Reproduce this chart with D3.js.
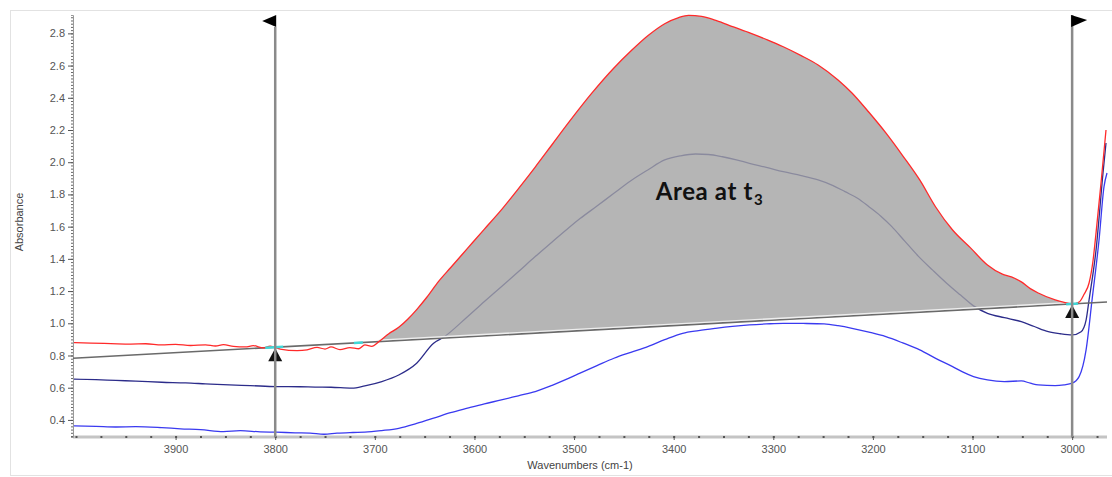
<!DOCTYPE html>
<html>
<head>
<meta charset="utf-8">
<script src="https://cdn.jsdelivr.net/npm/d3@7"></script>
<style>
  html, body { margin: 0; padding: 0; background: #fff; }
  svg { display: block; }
  .tick text { font-family: "Liberation Sans", Arial, sans-serif; font-size: 11px; fill: #555; }
</style>
</head>
<body>
<div id="chart"></div>
<script>
// Spectrum at t3 (red), t2 (navy), t1 (blue)
const redWn = [4002, 3985, 3965, 3945, 3930, 3914, 3900, 3885, 3870, 3860, 3852, 3842, 3830, 3822, 3812, 3805, 3795, 3778, 3768, 3758, 3750, 3744, 3735, 3725, 3716, 3710, 3703, 3696, 3686, 3676, 3667, 3658, 3648, 3636, 3624, 3607, 3590, 3573, 3556, 3539, 3522, 3505, 3482, 3460, 3443, 3426, 3409, 3395, 3385, 3372, 3357, 3340, 3323, 3306, 3290, 3272, 3255, 3235, 3221, 3204, 3187, 3170, 3153, 3137, 3120, 3102, 3085, 3070, 3061, 3051, 3042, 3034, 3017, 3008, 3000, 2993, 2988, 2983, 2979, 2976, 2971, 2966];
const redAbs = [0.880, 0.877, 0.874, 0.871, 0.873, 0.866, 0.869, 0.862, 0.866, 0.859, 0.867, 0.857, 0.853, 0.861, 0.847, 0.858, 0.840, 0.830, 0.835, 0.850, 0.840, 0.853, 0.837, 0.849, 0.842, 0.866, 0.857, 0.886, 0.935, 0.975, 1.025, 1.085, 1.160, 1.260, 1.345, 1.465, 1.585, 1.704, 1.835, 1.970, 2.110, 2.250, 2.430, 2.585, 2.690, 2.785, 2.860, 2.898, 2.912, 2.905, 2.879, 2.840, 2.802, 2.760, 2.717, 2.662, 2.604, 2.511, 2.430, 2.310, 2.182, 2.040, 1.890, 1.722, 1.579, 1.468, 1.362, 1.305, 1.288, 1.257, 1.215, 1.188, 1.145, 1.130, 1.120, 1.132, 1.180, 1.250, 1.390, 1.561, 1.871, 2.200];

const navyWn = [4002, 3980, 3960, 3940, 3914, 3890, 3870, 3846, 3825, 3799, 3775, 3760, 3744, 3723, 3710, 3693, 3676, 3658, 3641, 3631, 3607, 3590, 3573, 3556, 3539, 3522, 3505, 3494, 3477, 3460, 3443, 3426, 3409, 3393, 3378, 3365, 3351, 3337, 3324, 3307, 3290, 3272, 3255, 3240, 3228, 3215, 3204, 3192, 3181, 3168, 3154, 3140, 3126, 3112, 3099, 3085, 3068, 3051, 3038, 3024, 3012, 3000, 2991, 2986, 2983, 2976, 2969, 2966];
const navyAbs = [0.653, 0.650, 0.645, 0.641, 0.634, 0.630, 0.624, 0.617, 0.613, 0.607, 0.606, 0.604, 0.603, 0.597, 0.611, 0.638, 0.679, 0.752, 0.876, 0.913, 1.041, 1.135, 1.227, 1.320, 1.414, 1.505, 1.595, 1.650, 1.728, 1.807, 1.885, 1.952, 2.014, 2.040, 2.051, 2.048, 2.034, 2.015, 1.993, 1.968, 1.941, 1.917, 1.890, 1.855, 1.817, 1.775, 1.724, 1.665, 1.600, 1.510, 1.414, 1.330, 1.249, 1.175, 1.108, 1.062, 1.035, 1.010, 0.980, 0.948, 0.935, 0.928, 0.948, 1.020, 1.145, 1.455, 1.933, 2.119];

const blueWn = [4002, 3980, 3960, 3940, 3914, 3895, 3875, 3852, 3835, 3815, 3799, 3780, 3765, 3751, 3738, 3722, 3710, 3693, 3676, 3658, 3641, 3624, 3607, 3590, 3573, 3556, 3539, 3522, 3505, 3494, 3477, 3460, 3443, 3426, 3409, 3391, 3375, 3358, 3341, 3324, 3307, 3290, 3270, 3249, 3235, 3221, 3204, 3187, 3170, 3153, 3137, 3120, 3110, 3099, 3085, 3068, 3051, 3042, 3034, 3017, 3008, 3000, 2993, 2986, 2980, 2973, 2968, 2965];
const blueAbs = [0.363, 0.360, 0.356, 0.358, 0.352, 0.345, 0.340, 0.327, 0.333, 0.326, 0.324, 0.320, 0.318, 0.311, 0.318, 0.322, 0.324, 0.334, 0.348, 0.378, 0.411, 0.445, 0.473, 0.500, 0.524, 0.550, 0.576, 0.615, 0.659, 0.690, 0.737, 0.783, 0.820, 0.855, 0.898, 0.938, 0.955, 0.969, 0.981, 0.990, 0.996, 1.000, 0.999, 0.996, 0.985, 0.969, 0.945, 0.917, 0.878, 0.835, 0.782, 0.731, 0.698, 0.669, 0.648, 0.638, 0.642, 0.628, 0.617, 0.613, 0.618, 0.628, 0.669, 0.835, 1.145, 1.517, 1.848, 1.933];

// Integration baseline (straight line) and the integration limits (flags)
const baseWn = [4003, 2965];
const baseAbs = [0.783, 1.132];
const flagWn = [3800, 3000];
const areaLimits = [3696, 3000];

// Axis ticks
const xTicks = [3900, 3800, 3700, 3600, 3500, 3400, 3300, 3200, 3100, 3000];
const yTicks = [0.4, 0.6, 0.8, 1.0, 1.2, 1.4, 1.6, 1.8, 2.0, 2.2, 2.4, 2.6, 2.8];

const label = { text: "Area at t", sub: "3", wn: 3418, abs: 1.765 };

const width = 1112, height = 477;
const svg = d3.select("#chart").append("svg")
    .attr("width", width)
    .attr("height", height);

// outer frame
svg.append("rect")
    .attr("x", 10.5).attr("y", 10.5)
    .attr("width", 1110).attr("height", 465)
    .attr("fill", "none").attr("stroke", "#e2e2e2");

const x = d3.scaleLinear().domain([4003, 2965]).range([73, 1107]);
const y = d3.scaleLinear().domain([0.294, 2.914]).range([437, 15]);
const baseline = d3.scaleLinear().domain(baseWn).range(baseAbs);

// x axis: thick light line, dark ticks
svg.append("line")
    .attr("x1", x.range()[0]).attr("x2", x.range()[1])
    .attr("y1", 437).attr("y2", 437)
    .attr("stroke", "#c4c4c4").attr("stroke-width", 3);

const xMinor = d3.range(4000, 2960, -25);
svg.append("g")
    .attr("transform", "translate(0,436)")
    .call(d3.axisBottom(x).tickValues(xMinor).tickSize(2).tickFormat(""))
    .call(g => g.select(".domain").remove())
    .call(g => g.selectAll("line").attr("stroke", "#555").attr("stroke-width", 2));

svg.append("g")
    .attr("transform", "translate(0,436)")
    .call(d3.axisBottom(x).tickValues(xTicks).tickSize(4).tickFormat(d3.format("d")))
    .call(g => g.select(".domain").remove())
    .call(g => g.selectAll("line").attr("stroke", "#555"))
    .call(g => g.selectAll("text").attr("dy", "0.9em"));

// y axis: dotted minor ticks + labelled majors
svg.append("g")
    .attr("transform", "translate(73,0)")
    .call(d3.axisLeft(y).tickValues(d3.range(0.30, 2.92, 0.02)).tickSize(2).tickFormat(""))
    .call(g => g.select(".domain").attr("stroke", "#999"))
    .call(g => g.selectAll("line").attr("stroke", "#666"));

svg.append("g")
    .attr("transform", "translate(73,0)")
    .call(d3.axisLeft(y).tickValues(yTicks).tickSize(5).tickFormat(d3.format(".1f")))
    .call(g => g.select(".domain").remove())
    .call(g => g.selectAll("line").attr("stroke", "#555"))
    .call(g => g.selectAll("text").attr("x", -8));

// axis titles
svg.append("text")
    .attr("x", 580).attr("y", 469)
    .attr("text-anchor", "middle")
    .style("font-family", "Liberation Sans, Arial, sans-serif")
    .style("font-size", "11px").style("fill", "#444")
    .text("Wavenumbers (cm-1)");

svg.append("text")
    .attr("transform", "translate(23,222) rotate(-90)")
    .attr("text-anchor", "middle")
    .style("font-family", "Liberation Sans, Arial, sans-serif")
    .style("font-size", "11px").style("fill", "#444")
    .text("Absorbance");

const plot = svg.append("g");

const toPts = (wn, ab) => wn.map((w, i) => ({ wn: w, abs: ab[i] }));
const line = d3.line().x(d => x(d.wn)).y(d => y(d.abs)).curve(d3.curveMonotoneX);

// t1 and t2 spectra
plot.append("path")
    .attr("d", line(toPts(blueWn, blueAbs)))
    .attr("fill", "none").attr("stroke", "#3a3af0").attr("stroke-width", 1.3);

plot.append("path")
    .attr("d", line(toPts(navyWn, navyAbs)))
    .attr("fill", "none").attr("stroke", "#2c2c8a").attr("stroke-width", 1.3);

// integrated area (grey) between red spectrum and baseline
const redPts = toPts(redWn, redAbs);
const areaPts = redPts.filter(d => d.wn <= areaLimits[0] && d.wn >= areaLimits[1]);
const area = d3.area()
    .x(d => x(d.wn))
    .y0(d => y(baseline(d.wn)))
    .y1(d => y(Math.max(d.abs, baseline(d.wn))))
    .curve(d3.curveMonotoneX);

plot.append("path")
    .attr("d", area(areaPts))
    .attr("fill", "#a2a2a2")
    .attr("fill-opacity", 0.8);

// baseline
const baseLine = d3.line().x(d => x(d)).y(d => y(baseline(d)));
plot.append("path")
    .attr("d", baseLine(baseWn))
    .attr("fill", "none").attr("stroke", "#6a6a6a").attr("stroke-width", 1.6);
plot.append("path")
    .attr("d", baseLine(areaLimits))
    .attr("transform", "translate(0,-1.5)")
    .attr("fill", "none").attr("stroke", "#eeeeee").attr("stroke-width", 1.4);

// t3 spectrum
plot.append("path")
    .attr("d", line(redPts))
    .attr("fill", "none").attr("stroke", "#ff2a2a").attr("stroke-width", 1.3);

// cyan markers where the baseline is anchored
[[3810, 3792], [3721, 3712], [3006, 2994]].forEach(seg => {
    plot.append("path")
        .attr("d", baseLine(seg))
        .attr("fill", "none").attr("stroke", "#3fd8d8").attr("stroke-width", 2.5);
});

// arrow markers under the baseline at each limit
plot.selectAll(".arrow")
    .data(flagWn)
    .enter()
    .append("path")
    .attr("class", "arrow")
    .attr("d", d => {
        const px = x(d), py = y(baseline(d)) + 1;
        return `M${px},${py} L${px + 7},${py + 13} L${px - 7},${py + 13} Z`;
    })
    .attr("fill", "#111");

// limit poles with flags
plot.selectAll(".pole")
    .data(flagWn)
    .enter()
    .append("line")
    .attr("class", "pole")
    .attr("x1", d => x(d)).attr("x2", d => x(d))
    .attr("y1", (d, i) => i === 0 ? 27 : 15)
    .attr("y2", 437)
    .attr("stroke", "#8a8a8a").attr("stroke-width", 2.5);

plot.selectAll(".flag")
    .data(flagWn)
    .enter()
    .append("path")
    .attr("class", "flag")
    .attr("d", (d, i) => {
        const px = x(d);
        return i === 0
            ? `M${px + 1},15 L${px + 1},27 L${px - 13},21 Z`
            : `M${px - 1},15 L${px - 1},27 L${px + 15},20 Z`;
    })
    .attr("fill", "#000");

// annotation
const ann = svg.append("text")
    .attr("x", x(label.wn)).attr("y", y(label.abs))
    .style("font-family", "Lato, 'Open Sans', sans-serif")
    .style("font-weight", "bold")
    .style("font-size", "24px")
    .style("letter-spacing", "0.6px")
    .style("fill", "#111");
ann.append("tspan").text(label.text);
ann.append("tspan")
    .attr("dx", 1).attr("dy", 5)
    .style("font-size", "15px")
    .text(label.sub);
</script>
</body>
</html>
